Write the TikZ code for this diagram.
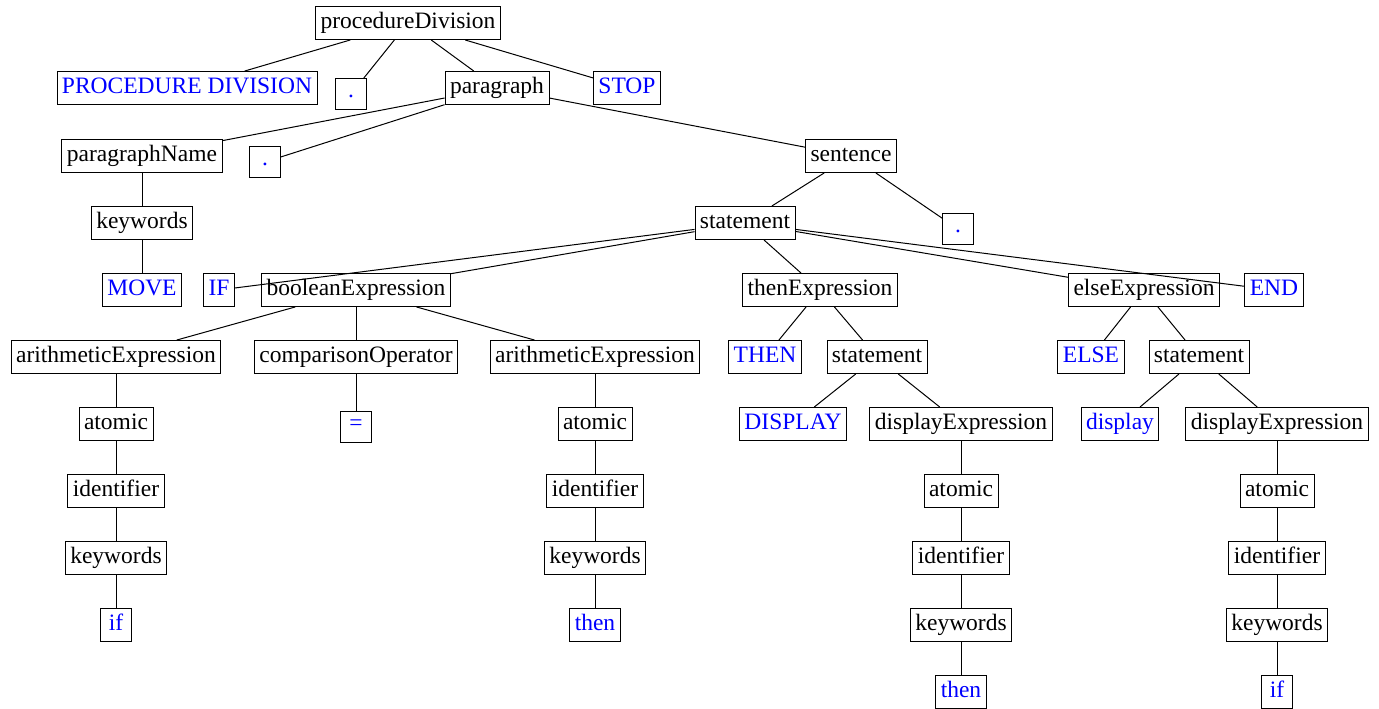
\documentclass[tikz,border=0pt]{standalone}
\usepackage{fontspec}
\setmainfont{Liberation Serif}
\usepackage{tikz}
\usetikzlibrary{positioning}
\definecolor{TermBlue}{HTML}{0000FF}
\newcommand{\treefont}{\fontsize{23.5}{28}\selectfont}

\tikzset{
  rule/.style={draw, line width=0.95pt, font=\treefont, inner xsep=5pt, inner ysep=6pt,
               text height=16pt, text depth=5pt, minimum width=31pt},
  token/.style={rule, text=TermBlue},
  dotbox/.style={token, text height=13pt, text depth=6pt},
  branch/.style={line width=1pt}
}

\begin{document}
\begin{tikzpicture}[x=1pt,y=-1pt]
  \useasboundingbox (0,0) rectangle (1379,709);

  \node[rule]   (procDiv)   at (408,23)  {procedureDivision};

  \node[token]  (procKw)    at (187,88)  {PROCEDURE DIVISION};
  \node[dotbox] (dotA)      at (351,94)  {.};
  \node[rule]   (para)      at (497,88)  {paragraph};
  \node[token]  (stop)      at (627,88)  {STOP};

  \node[rule]   (paraName)  at (142,156) {paragraphName};
  \node[dotbox] (dotB)      at (265,162) {.};
  \node[rule]   (sent)      at (851,156) {sentence};

  \node[rule]   (kwA)       at (142,223) {keywords};
  \node[rule]   (stmt)      at (745,223) {statement};
  \node[dotbox] (dotC)      at (958,229) {.};

  \node[token]  (move)      at (142,290) {MOVE};
  \node[token]  (ifKw)      at (219,290) {IF};
  \node[rule]   (boolExpr)  at (356,290) {booleanExpression};
  \node[rule]   (thenExpr)  at (820,290) {thenExpression};
  \node[rule]   (elseExpr)  at (1144,290) {elseExpression};
  \node[token]  (endKw)     at (1274,290) {END};

  \node[rule]   (arithL)    at (116,357) {arithmeticExpression};
  \node[rule]   (compOp)    at (356,357) {comparisonOperator};
  \node[rule]   (arithR)    at (595,357) {arithmeticExpression};
  \node[token]  (thenKw)    at (765,357) {THEN};
  \node[rule]   (stmtThen)  at (877,357) {statement};
  \node[token]  (elseKw)    at (1091,357) {ELSE};
  \node[rule]   (stmtElse)  at (1199,357) {statement};

  \node[rule]   (atomL)     at (116,424) {atomic};
  \node[dotbox] (equals)    at (356,427) {=};
  \node[rule]   (atomR)     at (595,424) {atomic};
  \node[token]  (dispKw)    at (793,424) {DISPLAY};
  \node[rule]   (dispExpA)  at (961,424) {displayExpression};
  \node[token]  (dispLow)   at (1120,424) {display};
  \node[rule]   (dispExpB)  at (1277,424) {displayExpression};

  \node[rule]   (identL)    at (116,491) {identifier};
  \node[rule]   (identR)    at (595,491) {identifier};
  \node[rule]   (atomA)     at (961,491) {atomic};
  \node[rule]   (atomB)     at (1277,491) {atomic};

  \node[rule]   (kwL)       at (116,558) {keywords};
  \node[rule]   (kwR)       at (595,558) {keywords};
  \node[rule]   (identA)    at (961,558) {identifier};
  \node[rule]   (identB)    at (1277,558) {identifier};

  \node[token]  (ifL)       at (116,625) {if};
  \node[token]  (thenR)     at (595,625) {then};
  \node[rule]   (kwA2)      at (961,625) {keywords};
  \node[rule]   (kwB2)      at (1277,625) {keywords};

  \node[token]  (thenA)     at (961,692) {then};
  \node[token]  (ifB)       at (1277,692) {if};

  \foreach \p/\c in {procDiv/procKw, procDiv/dotA, procDiv/para, procDiv/stop,
                     para/paraName, para/dotB, para/sent,
                     paraName/kwA, kwA/move,
                     sent/stmt, sent/dotC,
                     stmt/ifKw, stmt/boolExpr, stmt/thenExpr, stmt/elseExpr, stmt/endKw,
                     boolExpr/arithL, boolExpr/compOp, boolExpr/arithR,
                     arithL/atomL, atomL/identL, identL/kwL, kwL/ifL,
                     compOp/equals,
                     arithR/atomR, atomR/identR, identR/kwR, kwR/thenR,
                     thenExpr/thenKw, thenExpr/stmtThen,
                     stmtThen/dispKw, stmtThen/dispExpA,
                     dispExpA/atomA, atomA/identA, identA/kwA2, kwA2/thenA,
                     elseExpr/elseKw, elseExpr/stmtElse,
                     stmtElse/dispLow, stmtElse/dispExpB,
                     dispExpB/atomB, atomB/identB, identB/kwB2, kwB2/ifB}
    \draw[branch] (\p) -- (\c);
\end{tikzpicture}
\end{document}
